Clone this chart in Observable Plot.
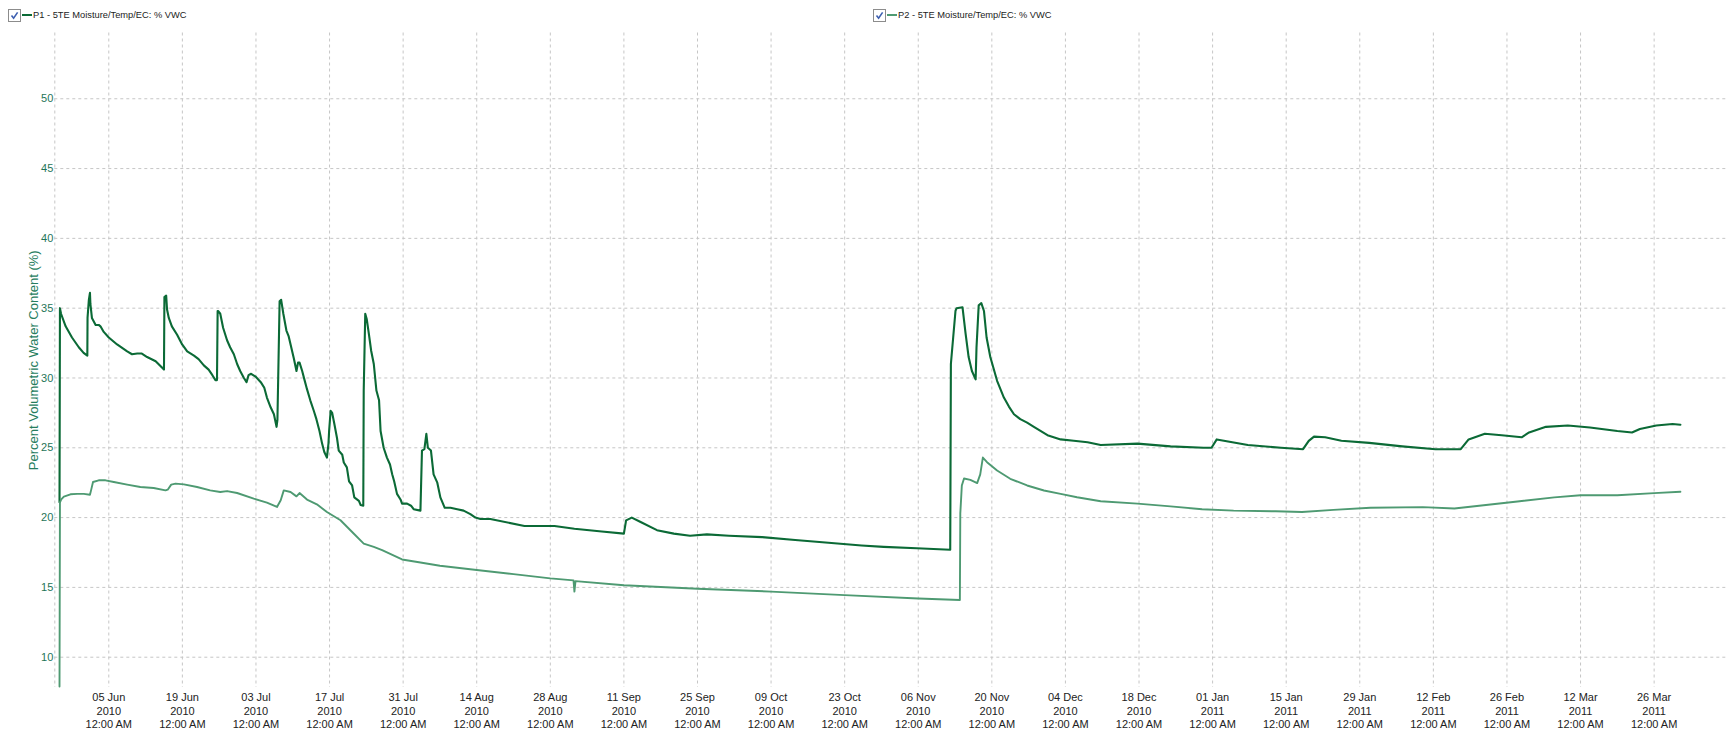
<!DOCTYPE html>
<html><head><meta charset="utf-8">
<script src="https://cdn.jsdelivr.net/npm/d3@7"></script>
<script src="https://cdn.jsdelivr.net/npm/@observablehq/plot@0.6"></script>
<style>
html,body{margin:0;padding:0;background:#fff;overflow:hidden;}
#legend{position:relative;width:1731px;height:24px;font-family:"Liberation Sans",Arial,sans-serif;font-size:9.3px;color:#222;}
.item{position:absolute;top:0;height:24px;}
.box{position:absolute;left:0;top:9px;width:11px;height:11px;border:1px solid #8c8c8c;background:#fff;}
.box svg{display:block;}
.swatch{position:absolute;left:14px;top:14px;height:2px;width:10px;}
.lbl{position:absolute;left:25px;top:10px;line-height:11px;white-space:nowrap;}
</style></head><body>
<div id="legend"></div>
<div id="chart"></div>
<script>
// ---- series ----
const seriesNames = ["P1 - 5TE Moisture/Temp/EC: % VWC", "P2 - 5TE Moisture/Temp/EC: % VWC"];
const seriesColors = ["#0b6a36", "#4e9a72"];
const legendLeft = [8, 873];

const p1Dates = ["2010-05-26T15:00","2010-05-26T17:00","2010-05-26T22:00","2010-05-27T19:00","2010-05-29T00:00","2010-05-30T07:00","2010-05-31T05:00","2010-05-31T22:00","2010-05-31T23:00",
"2010-06-01T05:00","2010-06-01T10:00","2010-06-01T12:00","2010-06-01T19:00","2010-06-02T12:00","2010-06-03T02:00","2010-06-03T10:00","2010-06-04T01:00","2010-06-05T00:00","2010-06-06T14:00","2010-06-08T12:00","2010-06-09T10:00","2010-06-10T10:00","2010-06-11T07:00","2010-06-12T07:00","2010-06-13T22:00","2010-06-15T12:00",
"2010-06-15T14:00","2010-06-15T22:00","2010-06-16T02:00","2010-06-16T10:00","2010-06-17T00:00","2010-06-18T00:00","2010-06-18T23:00","2010-06-19T22:00","2010-06-21T05:00","2010-06-22T02:00","2010-06-23T02:00","2010-06-24T00:00","2010-06-24T17:00","2010-06-25T07:00","2010-06-25T14:00",
"2010-06-25T17:00","2010-06-25T19:00","2010-06-26T05:00","2010-06-26T18:00","2010-06-27T12:00","2010-06-28T02:00","2010-06-28T19:00","2010-06-29T10:00","2010-06-30T00:00","2010-06-30T17:00","2010-07-01T05:00","2010-07-01T14:00","2010-07-02T02:00","2010-07-02T22:00","2010-07-03T22:00","2010-07-04T14:00","2010-07-05T02:00","2010-07-05T19:00","2010-07-06T10:00","2010-07-06T22:00","2010-07-07T02:00",
"2010-07-07T12:00","2010-07-07T19:00","2010-07-08T05:00","2010-07-08T19:00","2010-07-09T05:00","2010-07-09T17:00","2010-07-10T05:00","2010-07-10T17:00","2010-07-11T00:00","2010-07-11T07:00","2010-07-11T19:00","2010-07-12T05:00","2010-07-12T17:00","2010-07-13T08:00","2010-07-14T00:00","2010-07-14T12:00","2010-07-15T02:00","2010-07-15T14:00","2010-07-16T00:00","2010-07-16T12:00","2010-07-16T19:00","2010-07-16T22:00","2010-07-17T05:00","2010-07-17T12:00","2010-07-17T22:00","2010-07-18T10:00","2010-07-18T18:00","2010-07-19T10:00","2010-07-19T17:00","2010-07-20T07:00","2010-07-20T17:00","2010-07-21T07:00","2010-07-21T17:00","2010-07-22T14:00","2010-07-22T22:00","2010-07-23T10:00",
"2010-07-23T12:00","2010-07-23T19:00","2010-07-24T02:00","2010-07-24T12:00","2010-07-24T22:00","2010-07-25T10:00","2010-07-25T22:00","2010-07-26T10:00","2010-07-26T17:00","2010-07-27T07:00","2010-07-27T22:00","2010-07-28T12:00","2010-07-28T22:00","2010-07-29T07:00","2010-07-29T20:00","2010-07-30T12:00","2010-07-30T19:00","2010-07-31T18:00","2010-08-01T12:00","2010-08-02T00:00","2010-08-03T07:00",
"2010-08-03T14:00","2010-08-04T01:00","2010-08-04T10:00","2010-08-04T17:00","2010-08-05T07:00","2010-08-05T19:00","2010-08-06T12:00","2010-08-07T02:00","2010-08-07T22:00","2010-08-09T00:00","2010-08-10T07:00","2010-08-11T12:00","2010-08-12T19:00","2010-08-13T18:00","2010-08-14T17:00","2010-08-16T14:00",
"2010-08-23T02:00","2010-08-28T19:00","2010-09-01T14:00","2010-09-06T19:00","2010-09-11T00:00","2010-09-11T10:00","2010-09-12T12:00","2010-09-14T02:00","2010-09-17T07:00","2010-09-20T12:00","2010-09-23T14:00","2010-09-26T19:00","2010-10-01T00:00","2010-10-07T07:00","2010-10-13T14:00","2010-10-19T22:00","2010-10-26T05:00","2010-10-30T10:00","2010-11-05T17:00","2010-11-12T02:00",
"2010-11-12T05:00","2010-11-13T02:00","2010-11-13T07:00","2010-11-14T10:00","2010-11-15T00:00","2010-11-15T14:00","2010-11-16T05:00","2010-11-16T22:00","2010-11-17T02:00","2010-11-17T12:00","2010-11-18T00:00","2010-11-18T12:00","2010-11-19T00:00","2010-11-19T17:00","2010-11-21T00:00","2010-11-22T07:00","2010-11-23T06:00","2010-11-24T05:00","2010-11-25T10:00","2010-11-26T17:00","2010-11-28T00:00","2010-11-30T14:00","2010-12-03T02:00","2010-12-05T14:00","2010-12-08T05:00","2010-12-10T17:00",
"2010-12-17T17:00","2010-12-24T00:00","2010-12-30T07:00","2010-12-31T19:00","2011-01-01T19:00","2011-01-07T17:00","2011-01-14T00:00","2011-01-18T05:00","2011-01-19T07:00","2011-01-20T07:00","2011-01-22T10:00","2011-01-25T12:00","2011-01-30T19:00","2011-02-06T02:00","2011-02-12T10:00","2011-02-17T05:00","2011-02-18T17:00","2011-02-21T19:00","2011-02-25T00:00","2011-02-28T19:00","2011-03-02T05:00","2011-03-05T10:00","2011-03-09T14:00","2011-03-13T19:00","2011-03-19T00:00","2011-03-21T19:00","2011-03-23T07:00","2011-03-26T10:00","2011-03-29T12:00","2011-03-31T00:00"];
const p1Values = [21.1, 35.0, 34.6, 33.7, 32.9, 32.2, 31.8, 31.6, 34.3,
35.6, 36.1, 35.3, 34.3, 33.8, 33.8, 33.7, 33.3, 32.9, 32.4, 31.9, 31.7, 31.75, 31.75, 31.5, 31.2, 30.6,
35.8, 35.9, 34.9, 34.3, 33.7, 33.1, 32.4, 31.9, 31.6, 31.35, 30.9, 30.6, 30.2, 29.85, 29.85,
34.8, 34.8, 34.6, 33.6, 32.7, 32.2, 31.7, 31.0, 30.5, 30.0, 29.7, 30.2, 30.3, 30.1, 29.7, 29.3, 28.6, 27.9, 27.4, 26.5, 27.0,
35.5, 35.6, 34.6, 33.4, 33.0, 32.2, 31.4, 30.5, 31.1, 31.1, 30.5, 29.9, 29.2, 28.4, 27.65, 27.05, 26.2, 25.3, 24.7, 24.3, 25.3, 26.2, 27.65, 27.5, 26.7, 25.7, 24.8, 24.5, 23.95, 23.6, 22.6, 22.3, 21.45, 21.2, 20.9, 20.85,
29.1, 34.6, 34.2, 33.1, 31.95, 31.0, 29.1, 28.4, 26.2, 25.0, 24.3, 23.8, 23.1, 22.6, 21.7, 21.3, 21.0, 21.0, 20.85, 20.6, 20.5,
24.8, 24.9, 26.0, 25.0, 24.8, 23.1, 22.5, 21.45, 20.7, 20.7, 20.6, 20.5, 20.25, 20.0, 19.9, 19.9,
19.4, 19.4, 19.2, 19.0, 18.85, 19.8, 20.0, 19.7, 19.1, 18.85, 18.7, 18.8, 18.7, 18.6, 18.4, 18.2, 18.0, 17.9, 17.8, 17.7,
31.0, 34.8, 35.0, 35.07, 33.2, 31.5, 30.5, 29.9, 32.2, 35.2, 35.36, 34.8, 32.9, 31.5, 29.8, 28.6, 27.95, 27.4, 27.05, 26.8, 26.5, 25.9, 25.6, 25.5, 25.4, 25.2,
25.3, 25.1, 25.0, 25.0, 25.6, 25.2, 25.0, 24.9, 25.5, 25.8, 25.75, 25.5, 25.35, 25.1, 24.9, 24.9, 25.6, 26.0, 25.9, 25.75, 26.1, 26.5, 26.6, 26.45, 26.2, 26.1, 26.35, 26.6, 26.7, 26.65];

const p2Dates = ["2010-05-26T15:00","2010-05-26T17:00","2010-05-26T23:00","2010-05-27T11:00","2010-05-28T17:00","2010-05-30T00:00","2010-05-31T06:00","2010-06-01T10:00","2010-06-01T15:00","2010-06-02T00:00","2010-06-03T02:00","2010-06-04T09:00","2010-06-05T23:00","2010-06-08T12:00","2010-06-11T00:00","2010-06-13T13:00","2010-06-15T19:00","2010-06-16T05:00","2010-06-16T21:00","2010-06-17T17:00","2010-06-19T07:00","2010-06-21T19:00","2010-06-24T07:00","2010-06-26T05:00","2010-06-27T12:00","2010-06-29T10:00","2010-07-02T14:00","2010-07-05T02:00","2010-07-07T00:00","2010-07-07T17:00","2010-07-08T07:00","2010-07-09T14:00","2010-07-10T17:00","2010-07-11T07:00","2010-07-12T17:00","2010-07-14T14:00","2010-07-16T12:00","2010-07-19T02:00","2010-07-21T14:00","2010-07-23T12:00","2010-07-25T10:00","2010-07-27T00:00","2010-07-30T19:00","2010-08-03T00:00","2010-08-07T00:00","2010-08-14T00:00","2010-08-21T00:00","2010-08-28T00:00","2010-09-01T10:00","2010-09-01T14:00","2010-09-01T19:00","2010-09-11T00:00","2010-09-25T00:00","2010-10-09T00:00","2010-10-23T00:00","2010-11-06T00:00","2010-11-13T22:00","2010-11-14T00:00","2010-11-14T07:00","2010-11-14T17:00","2010-11-15T22:00","2010-11-17T05:00","2010-11-17T19:00","2010-11-18T07:00","2010-11-19T02:00","2010-11-21T00:00","2010-11-23T12:00","2010-11-26T17:00","2010-11-29T22:00","2010-12-03T02:00","2010-12-06T05:00","2010-12-10T17:00","2010-12-17T17:00","2010-12-24T00:00","2010-12-30T00:00","2011-01-05T00:00","2011-01-13T00:00","2011-01-18T00:00","2011-01-24T00:00","2011-01-31T00:00","2011-02-10T00:00","2011-02-16T00:00","2011-02-22T00:00","2011-02-28T00:00","2011-03-07T00:00","2011-03-12T00:00","2011-03-19T00:00","2011-03-26T00:00","2011-03-31T00:00"];
const p2Values = [7.9, 21.1, 21.3, 21.5, 21.67, 21.7, 21.7, 21.64, 21.95, 22.55, 22.67, 22.67, 22.55, 22.36, 22.19, 22.12, 21.95, 22.0, 22.36, 22.43, 22.38, 22.19, 21.95, 21.83, 21.9, 21.76, 21.36, 21.07, 20.76, 21.24, 21.95, 21.83, 21.52, 21.76, 21.29, 20.95, 20.4, 19.81, 18.86, 18.14, 17.9, 17.67, 17.0, 16.8, 16.55, 16.25, 15.95, 15.65, 15.5, 14.7, 15.45, 15.15, 14.9, 14.7, 14.45, 14.2, 14.1, 20.3, 22.3, 22.8, 22.7, 22.47, 23.1, 24.3, 23.97, 23.37, 22.78, 22.3, 21.94, 21.7, 21.46, 21.17, 21.0, 20.8, 20.6, 20.5, 20.45, 20.4, 20.55, 20.7, 20.75, 20.65, 20.9, 21.15, 21.45, 21.6, 21.6, 21.75, 21.85];

// ---- axes ----
const xDomain = ["2010-05-25T17:30", "2011-04-08T23:00"];
const yDomain = [7.83, 54.71];
const yTicks = [10, 15, 20, 25, 30, 35, 40, 45, 50];
const yLabel = "Percent Volumetric Water Content (%)";
const tickDates = ["2010-06-05T00:00","2010-06-19T00:00","2010-07-03T00:00","2010-07-17T00:00","2010-07-31T00:00","2010-08-14T00:00","2010-08-28T00:00","2010-09-11T00:00","2010-09-25T00:00","2010-10-09T00:00","2010-10-23T00:00","2010-11-06T00:00","2010-11-20T00:00","2010-12-04T00:00","2010-12-18T00:00","2011-01-01T00:00","2011-01-15T00:00","2011-01-29T00:00","2011-02-12T00:00","2011-02-26T00:00","2011-03-12T00:00","2011-03-26T00:00"];
const tickDayLabels = ["05 Jun","19 Jun","03 Jul","17 Jul","31 Jul","14 Aug","28 Aug","11 Sep","25 Sep","09 Oct","23 Oct","06 Nov","20 Nov","04 Dec","18 Dec","01 Jan","15 Jan","29 Jan","12 Feb","26 Feb","12 Mar","26 Mar"];
const tickYearLabels = ["2010","2010","2010","2010","2010","2010","2010","2010","2010","2010","2010","2010","2010","2010","2010","2011","2011","2011","2011","2011","2011","2011"];
const tickTimeLabel = "12:00 AM";

// ---- legend (HTML, above the SVG) ----
const legend = document.getElementById("legend");
seriesNames.forEach((name, i) => {
  const item = document.createElement("div");
  item.className = "item";
  item.style.left = legendLeft[i] + "px";
  item.innerHTML = `<div class="box"><svg width="11" height="11"><path d="M2.5 5.5 L4.6 8.2 L8.6 2.4" fill="none" stroke="#3d5fb0" stroke-width="1.6"/></svg></div>` +
    `<div class="swatch" style="background:${seriesColors[i]}"></div>` +
    `<div class="lbl"></div>`;
  item.querySelector(".lbl").textContent = name;
  legend.appendChild(item);
});

// ---- data tables ----
const toRows = (dates, values) => dates.map((d, i) => ({date: new Date(d), value: values[i]}));
const p1 = toRows(p1Dates, p1Values);
const p2 = toRows(p2Dates, p2Values);
const ticks = tickDates.map(d => new Date(d));
const labelMap = new Map(ticks.map((t, i) => [t.getTime(), `${tickDayLabels[i]}\n${tickYearLabels[i]}\n${tickTimeLabel}`]));
const xStart = new Date(xDomain[0]);

const grid = {stroke: "#c6c6c6", strokeOpacity: 1, strokeWidth: 1, strokeDasharray: "3,3"};

const chart = Plot.plot({
  width: 1731,
  height: 705,
  marginLeft: 54.3,
  marginRight: 4,
  marginTop: 8.5,
  marginBottom: 42,
  style: {fontFamily: '"Liberation Sans", Arial, sans-serif', background: "#fff", overflow: "visible"},
  x: {type: "time", domain: [xStart, new Date(xDomain[1])]},
  y: {domain: yDomain},
  marks: [
    Plot.gridY(yTicks, grid),
    Plot.gridX(ticks, grid),
    Plot.ruleX([xStart], grid),
    Plot.line(p1, {x: "date", y: "value", stroke: seriesColors[0], strokeWidth: 2.1}),
    Plot.line(p2, {x: "date", y: "value", stroke: seriesColors[1], strokeWidth: 1.9}),
    Plot.axisY(yTicks, {tickSize: 0, tickPadding: 1.5, fontSize: 11, color: "#1f7558", label: null}),
    Plot.axisY([], {tickSize: 0, fontSize: 13, color: "#267d5e",
      label: yLabel, labelAnchor: "center", labelArrow: "none", labelOffset: 26}),
    Plot.axisX(ticks, {tickSize: 0, tickPadding: 3.5, fontSize: 11, lineHeight: 1.25, color: "#222",
      tickFormat: d => labelMap.get(d.getTime()), label: null})
  ]
});
document.getElementById("chart").appendChild(chart);
</script>
</body></html>
